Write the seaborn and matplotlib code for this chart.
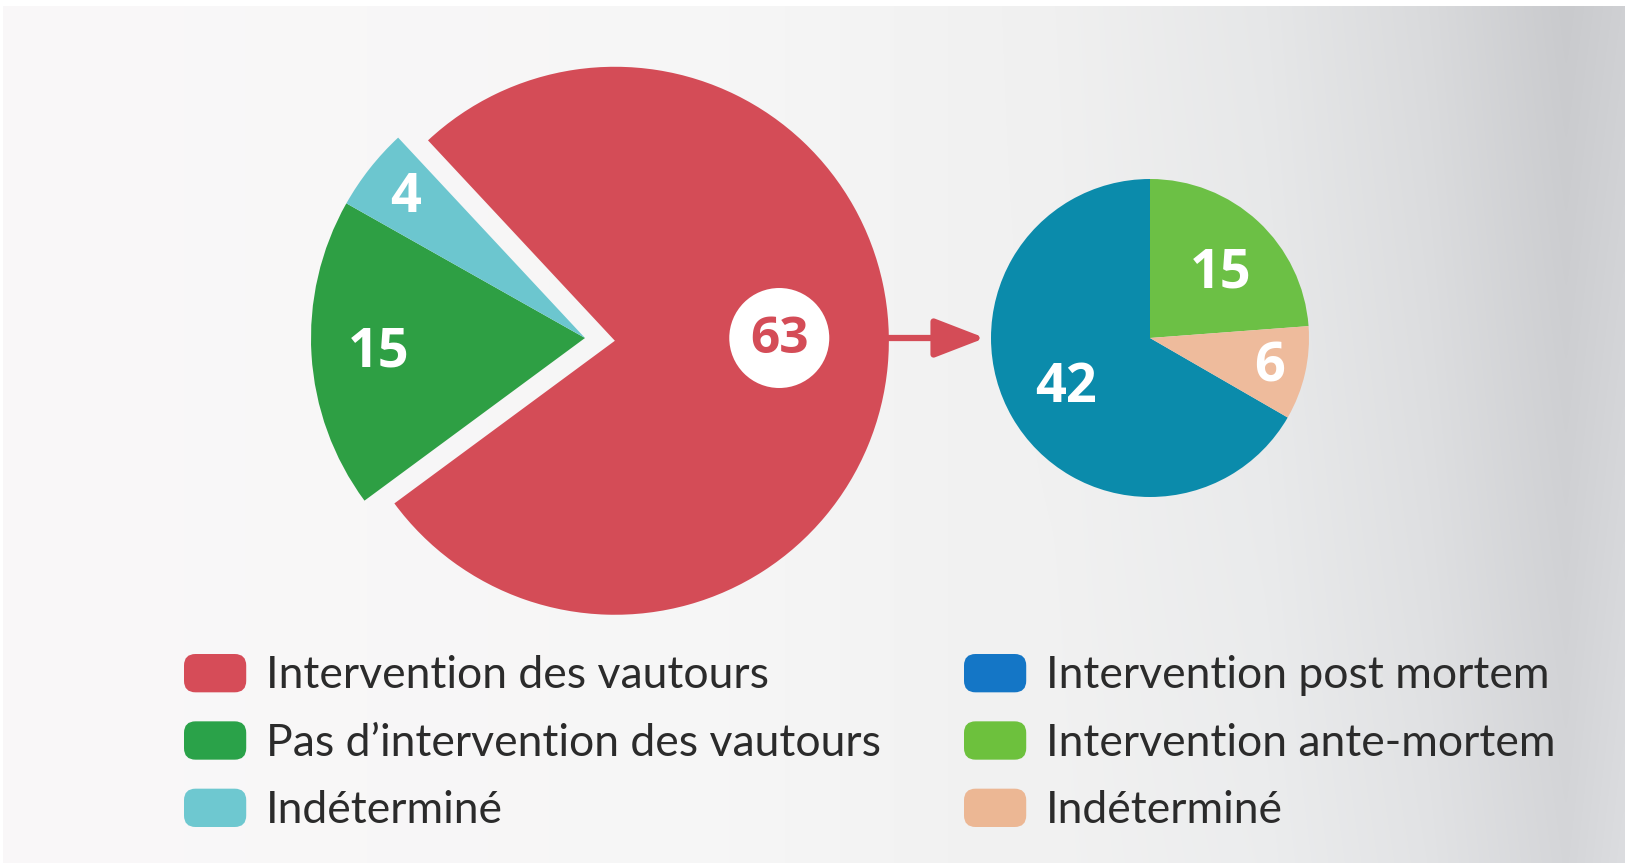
import numpy as np
import matplotlib
matplotlib.use("Agg")
import matplotlib.pyplot as plt
import seaborn as sns
from matplotlib.patches import Patch, FancyBboxPatch, Circle, FancyArrowPatch
from matplotlib.legend_handler import HandlerPatch
from matplotlib.colors import to_rgb

# ---------------- data ----------------
main_labels = ["Intervention des vautours", "Pas d\u2019intervention des vautours", "Indéterminé"]
main_values = [63, 15, 4]
main_colors = ["#d44c57", "#2e9f44", "#6cc6cf"]
main_legend_colors = ["#d64c58", "#2aa249", "#6ec8d0"]

sub_labels = ["Intervention post mortem", "Intervention ante-mortem", "Indéterminé"]
sub_values = [42, 15, 6]
sub_colors = ["#0b8bab", "#6cc045", "#eebb9c"]
sub_legend_colors = ["#1476c6", "#6dc13d", "#ecb794"]

# ---------------- style ----------------
sns.set_theme(style="white")
plt.rcParams["font.family"] = ["Lato", "DejaVu Sans"]

W, H = 1625, 863
fig = plt.figure(figsize=(W / 100, H / 100), dpi=100)
ax = fig.add_axes([0, 0, 1, 1])

# background gradient (light left -> grey right, slightly lighter towards the bottom)
xs = np.linspace(0, 1, 400)
ys = np.linspace(0, 1, 200)
stops_x = [0.0, 0.45, 0.65, 0.78, 0.88, 0.965, 1.0]
stops_c = ["#faf8f9", "#f6f6f6", "#f0f0f0", "#e6e7e8", "#d9dadc", "#c9cacd", "#cfd0d3"]
cols = np.array([to_rgb(c) for c in stops_c])
grad = np.stack([np.interp(xs, stops_x, cols[:, k]) for k in range(3)], axis=-1)
light = np.clip((xs - 0.6) / 0.4, 0, 1)[None, :, None] * (ys[:, None, None]) * 0.05
img = np.clip(grad[None, :, :] + light, 0, 1)
ax.imshow(img, extent=(0, W, 0, H), aspect="auto", zorder=0, interpolation="bicubic",
          origin="upper")
ax.axhspan(H - 6, H, color="white", zorder=0.5, lw=0)
ax.axvspan(0, 3, color="white", zorder=0.5, lw=0)

# ---------------- main pie ----------------
main_center = (585, H - 338)
main_r = 274
wedges_main, _ = ax.pie(main_values, colors=main_colors, radius=main_r, center=main_center,
                        startangle=133, counterclock=False, explode=[30, 0, 0],
                        wedgeprops=dict(linewidth=0), frame=True)
for w in wedges_main:
    w.set_zorder(2)

# ---------------- sub pie ----------------
sub_center = (1150, H - 338)
sub_r = 159
wedges_sub, _ = ax.pie(sub_values, colors=sub_colors, radius=sub_r, center=sub_center,
                       startangle=-30, counterclock=False,
                       wedgeprops=dict(linewidth=0), frame=True)
for w in wedges_sub:
    w.set_zorder(2)


def wedge_point(w, frac, angle=None):
    th = np.deg2rad((w.theta1 + w.theta2) / 2 if angle is None else angle)
    cx, cy = w.center
    return cx + frac * w.r * np.cos(th), cy + frac * w.r * np.sin(th)


num_font = ["Open Sans", "DejaVu Sans"]
# labels main pie
main_label_dist = [0.60, 0.755, 0.835]
for i, (w, v) in enumerate(zip(wedges_main, main_values)):
    if i == 0:
        x, y = wedge_point(w, main_label_dist[i], angle=0)
        y = main_center[1]
        ax.add_patch(Circle((x, y), 50, facecolor="white", edgecolor="none", zorder=3))
        ax.text(x, y - 2, str(v), color=main_colors[0], fontsize=37, fontweight="bold",
                ha="center", va="center", family=num_font, zorder=4)
    else:
        x, y = wedge_point(w, main_label_dist[i])
        ax.text(x, y - 2, str(v), color="white", fontsize=39, fontweight="bold",
                ha="center", va="center", family=num_font, zorder=4)

sub_label_dist = [0.61, 0.61, 0.77]
sub_label_angle = [None, 43, None]
for i, (w, v) in enumerate(zip(wedges_sub, sub_values)):
    x, y = wedge_point(w, sub_label_dist[i], angle=sub_label_angle[i])
    ax.text(x, y - 2, str(v), color="white", fontsize=39, fontweight="bold",
            ha="center", va="center", family=num_font, zorder=4)

# ---------------- arrow ----------------
red_w = wedges_main[0]
start = (red_w.center[0] + red_w.r - 2, sub_center[1])
end = (sub_center[0] - sub_r - 6, sub_center[1])
ax.add_patch(FancyArrowPatch(start, end, arrowstyle="-|>,head_length=2.2,head_width=0.85",
                             mutation_scale=14, color=main_colors[0], lw=4.5,
                             shrinkA=0, shrinkB=0, zorder=3))


# ---------------- legends ----------------
class RoundHandler(HandlerPatch):
    def create_artists(self, legend, orig_handle, xdescent, ydescent, width, height,
                       fontsize, trans):
        p = FancyBboxPatch((-xdescent, -ydescent), width, height,
                           boxstyle="round,pad=0,rounding_size=%f" % (height * 0.3),
                           facecolor=orig_handle.get_facecolor(), edgecolor="none",
                           transform=trans)
        return [p]


leg_kw = dict(frameon=False, fontsize=32, handlelength=1.4, handleheight=0.95,
              handletextpad=0.45, labelspacing=0.56, borderpad=0, borderaxespad=0,
              loc="upper left", bbox_transform=ax.transData, labelcolor="#2b2b2b",
              handler_map={Patch: RoundHandler()})

h1 = [Patch(facecolor=c, label=l) for c, l in zip(main_legend_colors, main_labels)]
leg1 = ax.legend(handles=h1, bbox_to_anchor=(184, H - 654), **leg_kw)
ax.add_artist(leg1)
h2 = [Patch(facecolor=c, label=l) for c, l in zip(sub_legend_colors, sub_labels)]
leg2 = ax.legend(handles=h2, bbox_to_anchor=(964, H - 654), **leg_kw)

ax.set_xlim(0, W)
ax.set_ylim(0, H)
ax.set_aspect("auto")
ax.axis("off")

fig.savefig("out.png", dpi=100)
